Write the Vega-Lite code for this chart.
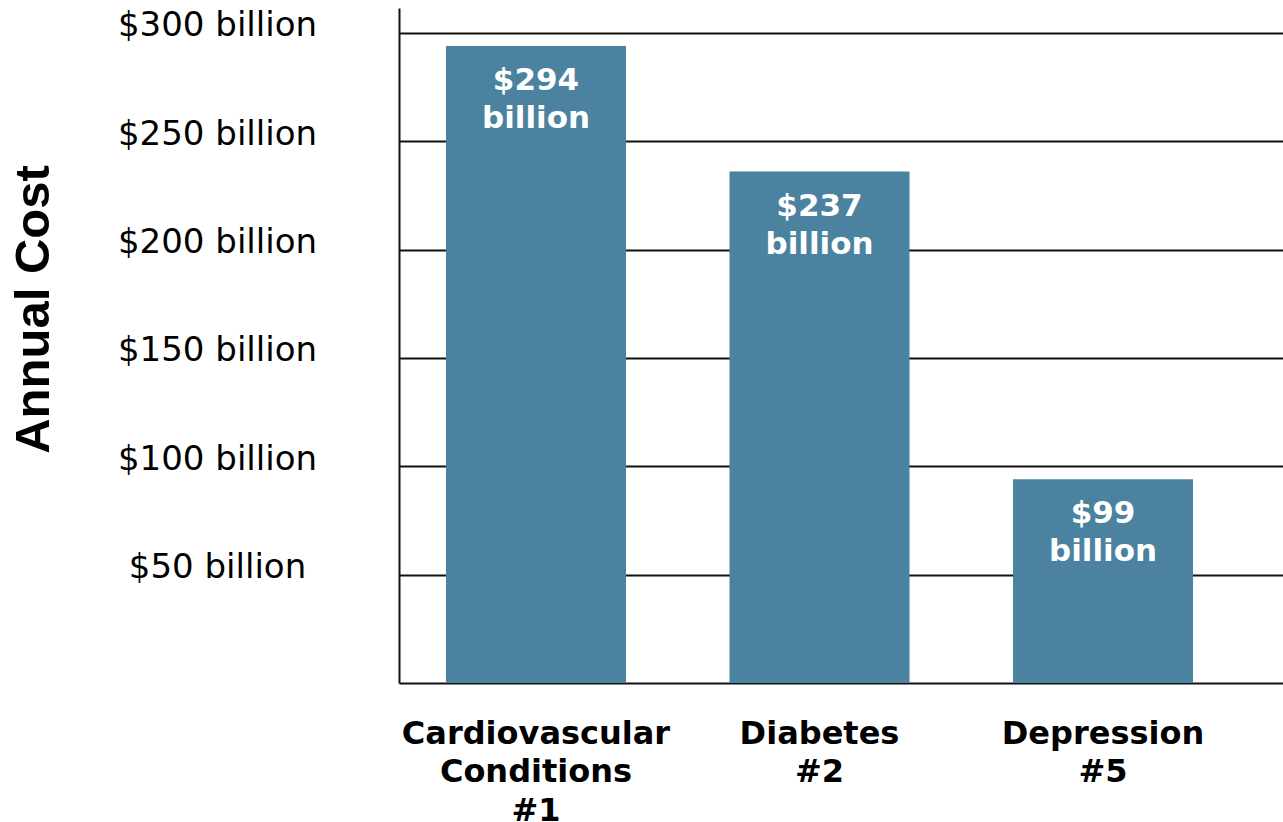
{
  "$schema": "https://vega.github.io/schema/vega-lite/v6.json",
  "width": 884,
  "height": 675,
  "autosize": {"type": "none"},
  "padding": {"left": 399, "top": 8, "right": 0, "bottom": 139},
  "background": "white",
  "config": {"view": {"stroke": null}, "font": "DejaVu Sans"},
  "data": {
    "values": [
      {"condition": "Cardiovascular Conditions #1", "cost": 294, "label": "$294 billion"},
      {"condition": "Diabetes #2", "cost": 236, "label": "$237 billion"},
      {"condition": "Depression #5", "cost": 94, "label": "$99 billion"}
    ]
  },
  "encoding": {
    "x": {
      "field": "condition",
      "type": "nominal",
      "sort": null,
      "scale": {"paddingInner": 0.365, "paddingOuter": 0.2415, "align": 0.343},
      "axis": {
        "title": null,
        "labelAngle": 0,
        "domain": true,
        "domainColor": "#111111",
        "domainWidth": 2,
        "ticks": false,
        "labelFont": "DejaVu Sans",
        "labelFontWeight": "bold",
        "labelFontSize": 32,
        "labelColor": "black",
        "labelPadding": 35,
        "labelBaseline": "top",
        "labelLineHeight": 38.5,
        "labelLimit": 0,
        "labelExpr": "split(datum.label, ' ')"
      }
    },
    "y": {
      "field": "cost",
      "type": "quantitative",
      "scale": {"domain": [0, 311.5], "nice": false, "zero": true},
      "axis": {
        "values": [50, 100, 150, 200, 250, 300],
        "labelExpr": "'$' + datum.value + ' billion'",
        "grid": true,
        "gridColor": "#111111",
        "gridWidth": 2,
        "domainColor": "#111111",
        "domainWidth": 2,
        "ticks": false,
        "labelFont": "DejaVu Sans",
        "labelFontSize": 34,
        "labelColor": "black",
        "labelAlign": "center",
        "labelPadding": 182,
        "labelOffset": -7,
        "labelLimit": 0,
        "title": "Annual Cost",
        "titleFont": "Liberation Sans",
        "titleFontSize": 49,
        "titleFontWeight": "bold",
        "titleColor": "black",
        "titleAngle": -90,
        "titleX": -366,
        "titleY": 301,
        "titleAlign": "center",
        "titleBaseline": "middle"
      }
    }
  },
  "layer": [
    {"mark": {"type": "bar", "color": "#4A82A0"}},
    {
      "mark": {
        "type": "text",
        "baseline": "top",
        "dy": 20,
        "color": "white",
        "font": "DejaVu Sans",
        "fontWeight": "bold",
        "fontSize": 31,
        "lineHeight": 38,
        "lineBreak": " "
      },
      "encoding": {"text": {"field": "label"}}
    }
  ]
}
